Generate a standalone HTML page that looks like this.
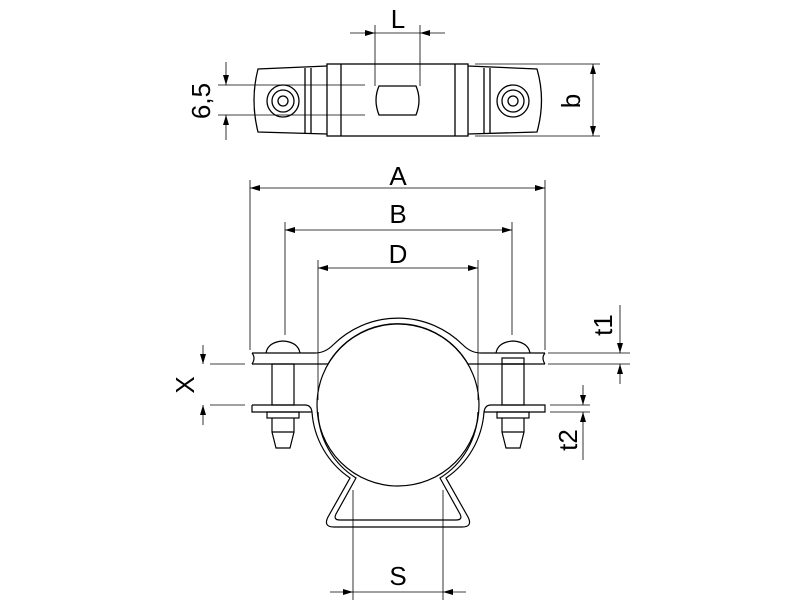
<!DOCTYPE html>
<html><head><meta charset="utf-8"><style>html,body{margin:0;background:#fff}svg{display:block}text{font-family:"Liberation Sans",sans-serif;fill:#000}</style></head><body>
<svg width="800" height="600" viewBox="0 0 800 600" xmlns="http://www.w3.org/2000/svg">
<defs>
<marker id="a" viewBox="0 0 10 6" refX="10" refY="3" markerWidth="10" markerHeight="6" orient="auto-start-reverse" markerUnits="userSpaceOnUse"><path d="M0,0 L10,3 L0,6z" fill="#000"/></marker>
</defs>
<g fill="none" stroke="#000" stroke-width="1.3">
<rect x="327" y="64" width="141" height="72"/>
<line x1="341" y1="64" x2="341" y2="136"/><line x1="455" y1="64" x2="455" y2="136"/>
<path d="M327,66 L258,69 Q250,100 258,132 L327,134"/>
<line x1="305" y1="68" x2="305" y2="133"/><line x1="311" y1="68" x2="311" y2="133"/>
<path d="M468,66 L537,69 Q546,100 537,132 L468,134"/>
<line x1="484" y1="68" x2="484" y2="133"/><line x1="490" y1="68" x2="490" y2="133"/>
<circle cx="283" cy="101" r="16"/><circle cx="283" cy="101" r="11"/><circle cx="283" cy="101" r="5"/>
<circle cx="513" cy="101" r="16"/><circle cx="513" cy="101" r="11"/><circle cx="513" cy="101" r="5"/>
<path d="M379,86 L416,86 Q422,100 416,115 L379,115 Q373,100 379,86z"/>
</g>
<g fill="none" stroke="#000" stroke-width="0.8">
<line x1="375" y1="25" x2="375" y2="86"/><line x1="420" y1="25" x2="420" y2="86"/>
<line x1="350" y1="33" x2="375" y2="33" marker-end="url(#a)"/><line x1="445" y1="33" x2="420" y2="33" marker-end="url(#a)"/>
<line x1="375" y1="33" x2="420" y2="33"/>
<line x1="218" y1="85" x2="365" y2="85"/><line x1="218" y1="115" x2="365" y2="115"/>
<line x1="226" y1="62" x2="226" y2="85" marker-end="url(#a)"/><line x1="226" y1="140" x2="226" y2="115" marker-end="url(#a)"/>
<line x1="475" y1="64" x2="600" y2="64"/><line x1="475" y1="136" x2="600" y2="136"/>
<line x1="593" y1="64" x2="593" y2="136" marker-start="url(#a)" marker-end="url(#a)"/>
<line x1="250" y1="180" x2="250" y2="350"/><line x1="545" y1="180" x2="545" y2="350"/>
<line x1="285" y1="222" x2="285" y2="335"/><line x1="512" y1="222" x2="512" y2="335"/>
<line x1="318" y1="260" x2="318" y2="400"/><line x1="478" y1="260" x2="478" y2="400"/>
<line x1="250" y1="188" x2="545" y2="188" marker-start="url(#a)" marker-end="url(#a)"/>
<line x1="285" y1="230" x2="512" y2="230" marker-start="url(#a)" marker-end="url(#a)"/>
<line x1="318" y1="268" x2="478" y2="268" marker-start="url(#a)" marker-end="url(#a)"/>
<line x1="210" y1="364" x2="245" y2="364"/><line x1="210" y1="405" x2="245" y2="405"/>
<line x1="203" y1="345" x2="203" y2="364" marker-end="url(#a)"/><line x1="203" y1="425" x2="203" y2="405" marker-end="url(#a)"/>
<line x1="548" y1="353" x2="630" y2="353"/><line x1="548" y1="364" x2="630" y2="364"/>
<line x1="620" y1="305" x2="620" y2="353" marker-end="url(#a)"/><line x1="620" y1="384" x2="620" y2="364" marker-end="url(#a)"/>
<line x1="550" y1="405" x2="590" y2="405"/><line x1="550" y1="412" x2="590" y2="412"/>
<line x1="583" y1="385" x2="583" y2="405" marker-end="url(#a)"/><line x1="583" y1="460" x2="583" y2="412" marker-end="url(#a)"/>
<line x1="353" y1="490" x2="353" y2="600"/><line x1="443" y1="490" x2="443" y2="600"/>
<line x1="330" y1="592" x2="353" y2="592" marker-end="url(#a)"/><line x1="466" y1="592" x2="443" y2="592" marker-end="url(#a)"/>
<line x1="353" y1="592" x2="443" y2="592"/>
</g>
<g fill="none" stroke="#000" stroke-width="1.2">
<circle cx="398" cy="405" r="81"/>
<path d="M252,353 L315,353 Q325,353 333,345 A92 92 0 0 1 463,345 Q471,353 481,353 L545,353"/>
<path d="M252,364 L328,364 A81 81 0 0 1 468,364 L545,364"/>
<path d="M252,353 Q256,358 252,364 M545,353 Q541,358 545,364"/>
<path d="M252,405 L305,405 Q311,405 312,412 A87 87 0 0 0 350,478 L328,517 Q323,527 334,527 L462,527 Q473,527 468,517 L446,478 A87 87 0 0 0 484,412 Q485,405 491,405 L545,405 L545,412 L484,412"/>
<path d="M312,412 L252,412 L252,405"/>
<path d="M318,412 A81 81 0 0 0 356,478 L336,514 Q333,520 340,520 L456,520 Q463,520 460,514 L440,478 A81 81 0 0 0 478,412"/>
<path d="M266,353 Q268,342 283,341 Q298,342 300,353"/>
<rect x="272" y="364" width="22" height="41"/><rect x="267" y="412" width="32" height="6"/>
<path d="M272,418 L272,432 L276,448 L290,448 L294,432 L294,418"/><line x1="272" y1="432" x2="294" y2="432"/>
<path d="M496,353 Q498,342 513,341 Q528,342 530,353"/>
<rect x="502" y="358" width="22" height="6"/>
<rect x="502" y="364" width="22" height="41"/><rect x="497" y="412" width="32" height="6"/>
<path d="M502,418 L502,432 L506,448 L520,448 L524,432 L524,418"/><line x1="502" y1="432" x2="524" y2="432"/>
</g>
<g font-size="26">
<text x="398" y="28" text-anchor="middle">L</text>
<text x="398" y="185" text-anchor="middle">A</text>
<text x="398" y="223" text-anchor="middle">B</text>
<text x="398" y="263" text-anchor="middle">D</text>
<text x="398" y="585" text-anchor="middle">S</text>
<text transform="translate(210,101) rotate(-90)" text-anchor="middle">6,5</text>
<text transform="translate(580,101) rotate(-90)" text-anchor="middle">b</text>
<text transform="translate(194,385) rotate(-90)" text-anchor="middle">X</text>
<text transform="translate(612,325) rotate(-90)" text-anchor="middle">t1</text>
<text transform="translate(577,440) rotate(-90)" text-anchor="middle">t2</text>
</g>
</svg>
</body></html>
